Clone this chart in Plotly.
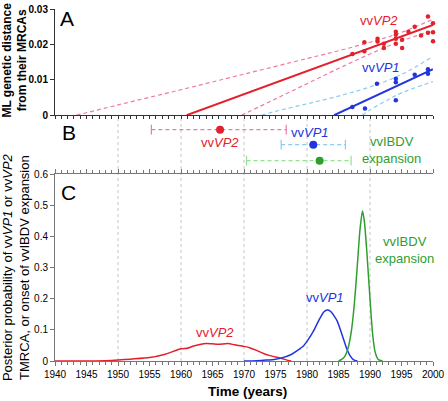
import plotly.graph_objects as go

FONT = "Arial, 'Liberation Sans', sans-serif"

# ---------------- Panel A data (ML genetic distance vs sampling year) ----------
vp2_years = [1987.2, 1989.1, 1989.1, 1991.2, 1991.2, 1992.2, 1992.2, 1994.1, 1994.1, 1994.1,
             1994.1, 1995.1, 1995.1, 1996.1, 1997.1, 1998.1, 1999.2, 1999.2, 2000.0, 2000.0, 2000.0]
vp2_dist = [0.0173, 0.0206, 0.0181, 0.0216, 0.0208, 0.0202, 0.0190, 0.0236, 0.0227, 0.0216,
            0.0202, 0.0213, 0.0190, 0.0236, 0.0250, 0.0225, 0.0279, 0.0233, 0.0260, 0.0234, 0.0209]
vp1_years = [1987.2, 1989.2, 1991.1, 1994.1, 1994.1, 1994.1, 1997.1, 1999.2, 1999.2]
vp1_dist = [0.0023, 0.0019, 0.0089, 0.0103, 0.0093, 0.0042, 0.0114, 0.0130, 0.0117]

vp2_fit_years = [1960.9, 2000.0]
vp2_fit = [0.0, 0.0255]
vp1_fit_years = [1984.3, 2000.0]
vp1_fit = [0.0, 0.0130]

vp2_upper_years = [1943.4, 1950, 1960, 1970, 1980, 1985, 1990, 1995, 2000]
vp2_upper = [0.0, 0.0029, 0.0072, 0.0116, 0.0160, 0.0182, 0.0206, 0.0234, 0.0271]
vp2_lower_years = [1969.6, 1975, 1980, 1985, 1990, 1995, 2000]
vp2_lower = [0.0, 0.0046, 0.0089, 0.0132, 0.0173, 0.0210, 0.0239]
vp1_upper_years = [1972.8, 1975, 1980, 1985, 1990, 1995, 2000]
vp1_upper = [0.0, 0.0011, 0.0032, 0.0054, 0.0080, 0.0115, 0.0166]
vp1_lower_years = [1988.75, 1990, 1993, 1995, 2000]
vp1_lower = [0.0, 0.0015, 0.0045, 0.0063, 0.0095]

# ---------------- Panel B data (estimates with intervals) ----------------------
b_names = ["vvVP2", "vvVP1", "vvIBDV"]
b_center = [1966.2, 1981.0, 1982.0]
b_low = [1955.3, 1975.9, 1970.4]
b_high = [1976.7, 1986.1, 1987.0]

# ---------------- Panel C data (posterior densities) ---------------------------
c_vp2_years = [1940, 1945, 1948, 1950, 1952, 1955, 1957.5, 1960, 1961, 1962, 1963, 1964, 1965,
               1966, 1967.5, 1968.5, 1970, 1971, 1972, 1973, 1974, 1975, 1976, 1977, 1977.5]
c_vp2 = [0.0, 0.0, 0.001, 0.003, 0.006, 0.011, 0.022, 0.039, 0.041, 0.048, 0.053, 0.056, 0.055,
         0.054, 0.056, 0.052, 0.047, 0.042, 0.034, 0.025, 0.018, 0.013, 0.008, 0.002, 0.0]
c_vp1_years = [1970, 1972, 1973.5, 1975, 1976, 1977.5, 1978.5, 1979.5, 1980, 1981, 1982, 1982.7,
               1983.2, 1983.7, 1984.3, 1984.8, 1985.3, 1985.8, 1986.3, 1986.8, 1987.4, 1988]
c_vp1 = [0.0, 0.001, 0.003, 0.006, 0.010, 0.021, 0.034, 0.050, 0.063, 0.095, 0.135, 0.158,
         0.164, 0.160, 0.145, 0.128, 0.100, 0.070, 0.040, 0.018, 0.004, 0.0]
c_ibdv_years = [1985, 1985.5, 1986, 1986.5, 1987, 1987.5, 1988, 1988.4, 1988.8, 1989.1, 1989.5,
                1990, 1990.4, 1990.8, 1991.3, 1992]
c_ibdv = [0.0, 0.005, 0.015, 0.04, 0.09, 0.18, 0.31, 0.42, 0.482, 0.45, 0.35, 0.20, 0.09,
          0.03, 0.005, 0.0]

grid_years = [1950, 1960, 1970, 1980, 1990]

RED = "#e3202b"
PINK = "#ee7aa5"
BLUE = "#2235dd"
LBLUE = "#8ccaf0"
GREEN = "#2f9e2f"
LGREEN = "#93e293"
DASH = "4px,3px"

fig = go.Figure()

# Panel A
fig.add_trace(go.Scatter(x=vp2_upper_years, y=vp2_upper, mode="lines", line=dict(color=PINK, width=1.2, dash=DASH, shape="spline"), xaxis="x", yaxis="y"))
fig.add_trace(go.Scatter(x=vp2_lower_years, y=vp2_lower, mode="lines", line=dict(color=PINK, width=1.2, dash=DASH, shape="spline"), xaxis="x", yaxis="y"))
fig.add_trace(go.Scatter(x=vp1_upper_years, y=vp1_upper, mode="lines", line=dict(color=LBLUE, width=1.2, dash=DASH, shape="spline"), xaxis="x", yaxis="y"))
fig.add_trace(go.Scatter(x=vp1_lower_years, y=vp1_lower, mode="lines", line=dict(color=LBLUE, width=1.2, dash=DASH, shape="spline"), xaxis="x", yaxis="y"))
fig.add_trace(go.Scatter(x=vp2_fit_years, y=vp2_fit, mode="lines", line=dict(color=RED, width=2), xaxis="x", yaxis="y"))
fig.add_trace(go.Scatter(x=vp1_fit_years, y=vp1_fit, mode="lines", line=dict(color=BLUE, width=2), xaxis="x", yaxis="y"))
fig.add_trace(go.Scatter(x=vp2_years, y=vp2_dist, mode="markers", marker=dict(color=RED, size=4.5), cliponaxis=False, xaxis="x", yaxis="y"))
fig.add_trace(go.Scatter(x=vp1_years, y=vp1_dist, mode="markers", marker=dict(color=BLUE, size=4.5), cliponaxis=False, xaxis="x", yaxis="y"))

# Panel B
b_rows = [45.3, 30.0, 13.7]
b_line_cols = [PINK, LBLUE, LGREEN]
b_dot_cols = [RED, BLUE, GREEN]
for i in range(len(b_names)):
    fig.add_trace(go.Scatter(x=[b_low[i], b_high[i]], y=[b_rows[i], b_rows[i]], mode="lines+markers",
                             line=dict(color=b_line_cols[i], width=1.2, dash=DASH),
                             marker=dict(symbol="line-ns-open", size=7, line=dict(color=b_line_cols[i], width=1.2)),
                             xaxis="x2", yaxis="y2"))
    fig.add_trace(go.Scatter(x=[b_center[i]], y=[b_rows[i]], mode="markers",
                             marker=dict(color=b_dot_cols[i], size=8), xaxis="x2", yaxis="y2"))

# Panel C
fig.add_trace(go.Scatter(x=c_vp2_years, y=c_vp2, mode="lines", line=dict(color=RED, width=1.5, shape="spline", smoothing=0.6), xaxis="x3", yaxis="y3"))
fig.add_trace(go.Scatter(x=c_vp1_years, y=c_vp1, mode="lines", line=dict(color=BLUE, width=1.5, shape="spline", smoothing=0.6), xaxis="x3", yaxis="y3"))
fig.add_trace(go.Scatter(x=c_ibdv_years, y=c_ibdv, mode="lines", line=dict(color=GREEN, width=1.5, shape="spline", smoothing=0.6), xaxis="x3", yaxis="y3"))

# grid lines through panels B and C
for gx in grid_years:
    fig.add_shape(type="line", xref="x3", yref="paper", x0=gx, x1=gx, y0=0, y1=0.687,
                  line=dict(color="#c4c4c4", width=1, dash="3px,3px"), layer="below")

C = dict(xanchor="center", yanchor="middle", showarrow=False)
ann = []
ann.append(dict(text="A", x=0.0314, y=0.9735, xref="paper", yref="paper", font=dict(size=21, color="black"), **C))
ann.append(dict(text="B", x=0.038, y=0.6494, xref="paper", yref="paper", font=dict(size=21, color="black"), **C))
ann.append(dict(text="C", x=0.0353, y=0.479, xref="paper", yref="paper", font=dict(size=21, color="black"), **C))
# series labels
ann.append(dict(text="vv<i>VP2</i>", x=1991.5, y=0.0267, xref="x", yref="y", font=dict(size=13, color=RED), **C))
ann.append(dict(text="vv<i>VP1</i>", x=1991.7, y=0.0135, xref="x", yref="y", font=dict(size=13, color=BLUE), **C))
ann.append(dict(text="vv<i>VP2</i>", x=1966.2, y=32, xref="x2", yref="y2", font=dict(size=13, color=RED), **C))
ann.append(dict(text="vv<i>VP1</i>", x=1980.5, y=42, xref="x2", yref="y2", font=dict(size=13, color=BLUE), **C))
ann.append(dict(text="vvIBDV<br>expansion", x=1993.4, y=24.5, xref="x2", yref="y2", font=dict(size=13, color=GREEN), **C))
ann.append(dict(text="vv<i>VP2</i>", x=1965.4, y=0.092, xref="x3", yref="y3", font=dict(size=13, color=RED), **C))
ann.append(dict(text="vv<i>VP1</i>", x=1982.9, y=0.203, xref="x3", yref="y3", font=dict(size=13, color=BLUE), **C))
ann.append(dict(text="vvIBDV<br>expansion", x=1995.4, y=0.356, xref="x3", yref="y3", font=dict(size=13, color=GREEN), **C))
# axis titles
ann.append(dict(text="<b>ML genetic distance<br>from their MRCAs</b>", x=-0.107, y=0.855, xref="paper", yref="paper",
                textangle=-90, font=dict(size=12, color="black"), **C))
ann.append(dict(text="Posterior probability of vv<i>VP1</i> or vv<i>VP2</i><br>TMRCA, or onset of vvIBDV expansion",
                x=-0.1047, y=0.268, xref="paper", yref="paper", textangle=-90,
                font=dict(size=13, color="black"), **C))
ann.append(dict(text="<b>Time (years)</b>", x=0.508, y=-0.0866, xref="paper", yref="paper",
                font=dict(size=13.5, color="black"), **C))

fig.update_layout(
    width=448, height=401,
    margin=dict(l=55, r=11, t=3, b=40),
    paper_bgcolor="white", plot_bgcolor="white",
    showlegend=False,
    font=dict(family=FONT, color="black"),
    annotations=ann,
    xaxis=dict(domain=[0, 1], anchor="y", range=[1940, 2000], showgrid=False, zeroline=False,
               showline=True, linecolor="#333", linewidth=1, ticks="outside", tick0=1940, dtick=1,
               ticklen=3, tickcolor="#333", showticklabels=False),
    yaxis=dict(domain=[0.6983, 1], anchor="x", range=[0, 0.03], showgrid=False, zeroline=False,
               showline=True, linecolor="#333", linewidth=1, ticks="outside", ticklen=4, tickcolor="#333",
               tickvals=[0, 0.01, 0.02, 0.03], ticktext=["0", "0.01", "0.02", "0.03"],
               tickfont=dict(size=10, weight="bold"), ticklabeloverflow="allow"),
    xaxis2=dict(domain=[0, 1], anchor="y2", range=[1940, 2000], visible=False),
    yaxis2=dict(domain=[0.5307, 0.6983], anchor="x2", range=[0, 60], visible=False),
    xaxis3=dict(domain=[0, 1], anchor="y3", range=[1940, 2000], showgrid=False, zeroline=False,
                showline=True, mirror="ticks", linecolor="#777", linewidth=1, ticks="outside", tick0=1940,
                dtick=5, ticklen=4, tickcolor="#777", tickfont=dict(size=10), ticklabeloverflow="allow",
                minor=dict(dtick=1, ticks="outside", ticklen=3, tickcolor="#777")),
    yaxis3=dict(domain=[0, 0.5307], anchor="x3", range=[0, 0.6], showgrid=False, zeroline=False,
                showline=True, linecolor="#777", linewidth=1, ticks="outside", ticklen=4, tickcolor="#777",
                tickvals=[0, 0.1, 0.2, 0.3, 0.4, 0.5, 0.6], ticktext=["0", "0.1", "0.2", "0.3", "0.4", "0.5", "0.6"],
                tickfont=dict(size=10)),
)

fig.write_html("out.html", config={"displayModeBar": False},
               post_script="document.body.style.margin='0';document.body.style.padding='0';")
